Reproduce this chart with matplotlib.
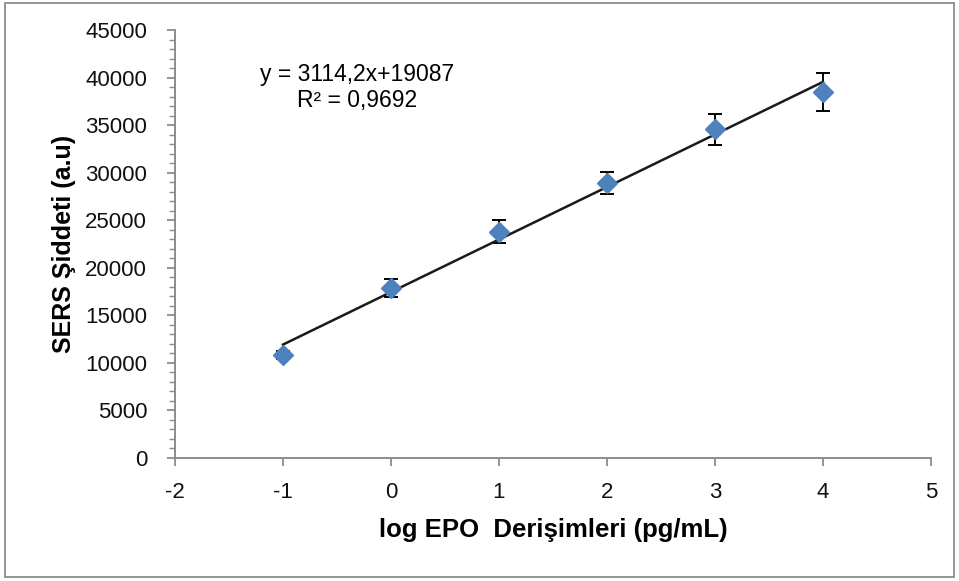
import matplotlib
matplotlib.use("Agg")
import matplotlib.pyplot as plt
import numpy as np
from matplotlib.patches import Rectangle
from matplotlib.ticker import MultipleLocator

plt.rcParams['font.family'] = ['Liberation Sans', 'DejaVu Sans']
plt.rcParams['axes.unicode_minus'] = False

log_conc = [-1, 0, 1, 2, 3, 4]
sers = [10830, 17870, 23790, 28900, 34550, 38470]
sers_err = [400, 950, 1230, 1150, 1630, 2000]
eq_text = "y = 3114,2x+19087"
r2_text = "R² = 0,9692"
x_ticks = [-2, -1, 0, 1, 2, 3, 4, 5]
y_ticks = [0, 5000, 10000, 15000, 20000, 25000, 30000, 35000, 40000, 45000]

fig = plt.figure(figsize=(9.59, 5.81), dpi=100)
fig.patches.append(Rectangle((0.005, 0.007), 0.99, 0.987, transform=fig.transFigure,
                             fill=False, edgecolor='#8c8c8c', linewidth=1.3))
ax = fig.add_axes([175/959, 1-458/581, (931-175)/959, (458-30)/581])

ax.errorbar(log_conc, sers, yerr=sers_err, fmt='none', ecolor='black',
            elinewidth=1.4, capsize=5, capthick=1.4, zorder=2)
coef = np.polyfit(log_conc, sers, 1)
xf = np.array([min(log_conc), max(log_conc)])
ax.plot(xf, np.polyval(coef, xf), color='#1a1a1a', linewidth=1.8, zorder=3)
ax.plot(log_conc, sers, linestyle='none', marker='D', markersize=10.5,
        color='#4F81BD', markeredgecolor='#4F81BD', zorder=4)

ax.set_xlim(-2, 5)
ax.set_ylim(0, 45000)
ax.set_xticks(x_ticks)
ax.set_yticks(y_ticks)
ax.yaxis.set_minor_locator(MultipleLocator(1000))
for s in ['top', 'right']:
    ax.spines[s].set_visible(False)
for s in ['left', 'bottom']:
    ax.spines[s].set_color('#8c8c8c')
    ax.spines[s].set_linewidth(1.4)
ax.tick_params(axis='both', which='major', direction='out', color='#8c8c8c',
               width=1.3, length=6, labelsize=16, labelcolor='#111111')
ax.tick_params(axis='y', which='minor', direction='out', color='#8c8c8c',
               width=1.0, length=4)
ax.tick_params(axis='y', which='major', pad=14)
ax.tick_params(axis='x', which='major', pad=11)

ax.set_xlabel('log EPO  Derişimleri (pg/mL)', fontsize=18.5, fontweight='bold', labelpad=11)
ax.set_ylabel('SERS Şiddeti (a.u)', fontsize=18, fontweight='bold', labelpad=7)

fig.text(357/959, 1-75/581, eq_text, ha='center', va='center', fontsize=16.5)
fig.text(357/959, 1-101/581, r2_text, ha='center', va='center', fontsize=16.5)

fig.savefig('out.png', dpi=100)
